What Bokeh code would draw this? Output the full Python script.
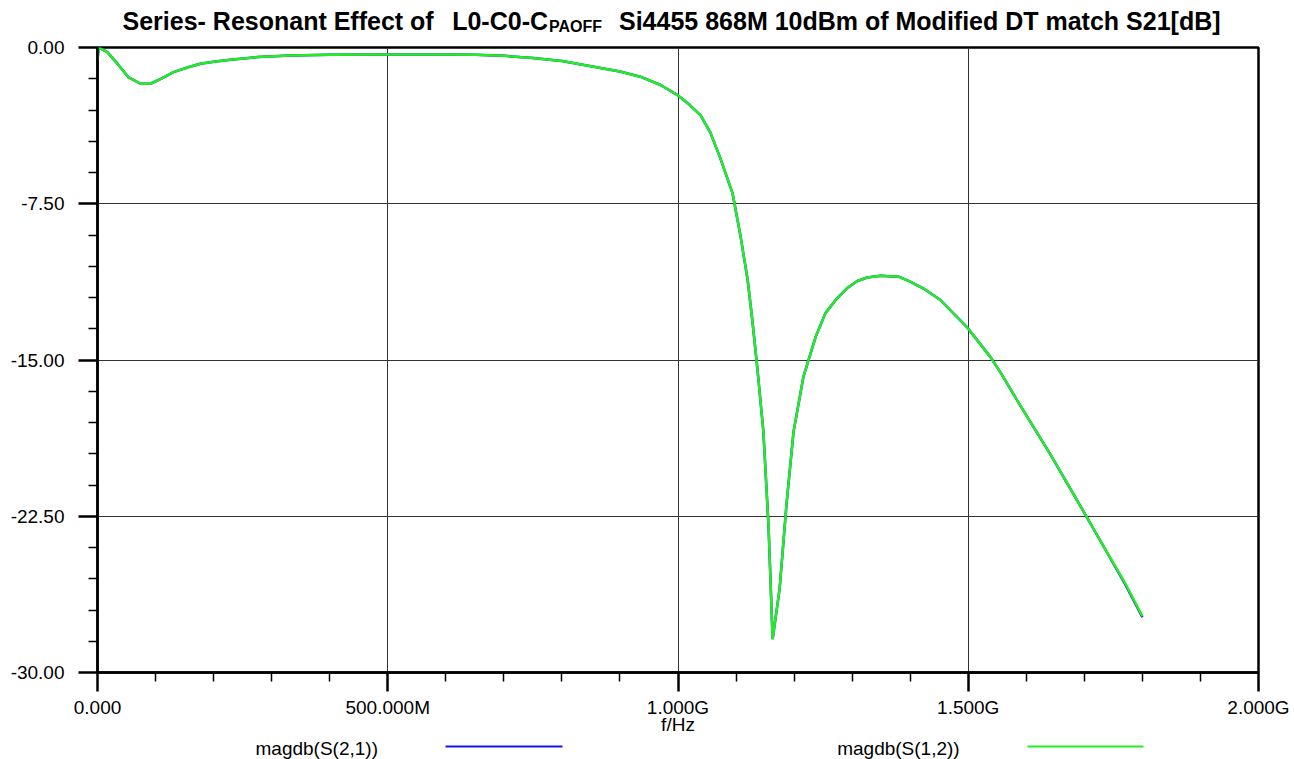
from bokeh.plotting import figure
from bokeh.layouts import column
from bokeh.models import Range1d, FixedTicker
from bokeh.core.properties import value
from bokeh.embed import file_html
from bokeh.resources import INLINE

# ---- data (frequency in GHz, magnitude in dB) ----
freq_ghz = [0.0, 0.002, 0.017, 0.035, 0.053, 0.074, 0.091, 0.110, 0.131, 0.155,
            0.177, 0.200, 0.229, 0.276, 0.332, 0.400, 0.500, 0.600, 0.650, 0.700,
            0.750, 0.800, 0.850, 0.900, 0.935, 0.970, 1.000, 1.020, 1.039, 1.056,
            1.073, 1.094, 1.108, 1.120, 1.128, 1.137, 1.147, 1.156, 1.163, 1.175,
            1.187, 1.199, 1.216, 1.237, 1.254, 1.274, 1.291, 1.309, 1.326, 1.349,
            1.380, 1.400, 1.423, 1.452, 1.499, 1.538, 1.556, 1.590, 1.642, 1.693,
            1.728, 1.771, 1.800]
s21_db = [-0.62, 0.0, -0.22, -0.80, -1.42, -1.74, -1.74, -1.49, -1.18, -0.96,
          -0.78, -0.68, -0.59, -0.46, -0.38, -0.35, -0.34, -0.34, -0.35, -0.40,
          -0.50, -0.65, -0.90, -1.15, -1.40, -1.80, -2.30, -2.75, -3.26, -4.10,
          -5.32, -7.00, -9.10, -11.16, -13.08, -15.48, -18.40, -23.00, -28.40, -26.00,
          -21.90, -18.45, -15.81, -13.90, -12.75, -12.04, -11.56, -11.21, -11.04, -10.96,
          -11.00, -11.24, -11.57, -12.12, -13.46, -14.85, -15.62, -17.20, -19.55, -22.00,
          -23.70, -25.80, -27.35]
s12_db = [-0.62, 0.0, -0.22, -0.80, -1.42, -1.74, -1.74, -1.49, -1.18, -0.96,
          -0.78, -0.68, -0.59, -0.46, -0.38, -0.35, -0.34, -0.34, -0.35, -0.40,
          -0.50, -0.65, -0.90, -1.15, -1.40, -1.80, -2.30, -2.75, -3.26, -4.10,
          -5.32, -7.00, -9.10, -11.16, -13.08, -15.48, -18.40, -23.00, -28.40, -26.00,
          -21.90, -18.45, -15.81, -13.90, -12.75, -12.04, -11.56, -11.21, -11.04, -10.96,
          -11.00, -11.24, -11.57, -12.12, -13.46, -14.85, -15.62, -17.20, -19.55, -22.00,
          -23.70, -25.75, -27.30]

x_ticks = [0.0, 0.5, 1.0, 1.5, 2.0]
x_tick_labels = ["0.000", "500.000M", "1.000G", "1.500G", "2.000G"]
x_minor_ticks = [0.1, 0.2, 0.3, 0.4, 0.6, 0.7, 0.8, 0.9, 1.1, 1.2, 1.3, 1.4,
                 1.6, 1.7, 1.8, 1.9]
y_ticks = [-30.0, -22.5, -15.0, -7.5, 0.0]
y_tick_labels = ["-30.00", "-22.50", "-15.00", "-7.50", "0.00"]
y_minor_ticks = [-28.5, -27.0, -25.5, -24.0, -21.0, -19.5, -18.0, -16.5,
                 -13.5, -12.0, -10.5, -9.0, -6.0, -4.5, -3.0, -1.5]

title_main = "Series- Resonant Effect of"
title_comp = "L0-C0-C"
title_sub = "PAOFF"
title_rest = "Si4455 868M 10dBm of Modified DT match S21[dB]"
x_axis_title = "f/Hz"
series_names = ["magdb(S(2,1))", "magdb(S(1,2))"]
series_colors = ["#1414f0", "#22ee22"]

FONT = "Liberation Sans"
W = 1294
LEFT, RIGHT = 97, 36          # frame borders shared by all stacked figures


def mid(baseline, size):
    # vertical centre of a text line from its baseline (Liberation Sans metrics)
    return baseline - 0.3465 * size


def blank_fig(height, y_top, y_bottom):
    f = figure(width=W, height=height, x_range=Range1d(LEFT, W - RIGHT),
               y_range=Range1d(y_bottom, y_top),
               x_axis_type=None, y_axis_type=None, output_backend="svg",
               toolbar_location=None, min_border_left=LEFT, min_border_right=RIGHT,
               min_border_top=0, min_border_bottom=0)
    f.outline_line_color = None
    f.background_fill_color = "white"
    f.border_fill_color = "white"
    f.title.visible = False
    f.grid.visible = False
    return f


# ---------- title strip (page rows 0..36) ----------
tf = blank_fig(36, 0, 36)
tf.text(x=[122, 451.7, 618.5], y=[mid(29.3, 25)] * 3, text=[title_main, title_comp, title_rest],
        text_font=value(FONT), text_font_size=value("25px"), text_font_style="bold",
        text_color="black", text_align="left", text_baseline="middle")
tf.text(x=[548.5], y=[mid(31.6, 16)], text=[title_sub],
        text_font=value(FONT), text_font_size=value("16px"), text_font_style="bold",
        text_color="black", text_align="left", text_baseline="middle")

# ---------- main plot (page rows 36..737) ----------
fig = figure(width=W, height=701, x_range=Range1d(0, 2), y_range=Range1d(-30, 0),
             output_backend="svg", toolbar_location=None,
             min_border_left=LEFT, min_border_right=RIGHT, min_border_top=11, min_border_bottom=64)
fig.title.visible = False
fig.background_fill_color = "white"
fig.border_fill_color = "white"
fig.outline_line_color = "black"
fig.outline_line_width = 2.5

for ax in (fig.xaxis[0], fig.yaxis[0]):
    ax.axis_line_width = 2.5
    ax.axis_line_color = "black"
    ax.major_tick_in = 0
    ax.major_tick_out = 19
    ax.major_tick_line_width = 2.5
    ax.major_tick_line_color = "black"
    ax.minor_tick_in = 0
    ax.minor_tick_out = 9
    ax.minor_tick_line_width = 1.5
    ax.minor_tick_line_color = "black"
    ax.major_label_text_font = FONT
    ax.major_label_text_font_size = "19px"
    ax.major_label_text_color = "black"

xa = fig.xaxis[0]
xa.ticker = FixedTicker(ticks=x_ticks, minor_ticks=x_minor_ticks)
xa.major_label_overrides = {t: l for t, l in zip(x_ticks, x_tick_labels)}
xa.major_label_standoff = 5
xa.axis_label = x_axis_title
xa.axis_label_text_font = FONT
xa.axis_label_text_font_size = "19px"
xa.axis_label_text_font_style = "normal"
xa.axis_label_text_color = "black"
xa.axis_label_standoff = -7

ya = fig.yaxis[0]
ya.ticker = FixedTicker(ticks=y_ticks, minor_ticks=y_minor_ticks)
ya.major_label_overrides = {t: l for t, l in zip(y_ticks, y_tick_labels)}
ya.major_label_standoff = 14

fig.xgrid.ticker = FixedTicker(ticks=x_ticks)
fig.ygrid.ticker = FixedTicker(ticks=y_ticks)
for g in (fig.xgrid[0], fig.ygrid[0]):
    g.grid_line_color = "#333333"
    g.grid_line_width = 1

fig.line(freq_ghz, s21_db, line_color=series_colors[0], line_width=2.5)
fig.line(freq_ghz, s12_db, line_color=series_colors[1], line_width=2.5)

# ---------- bottom strip: legend (page rows 737..759) ----------
lf = blank_fig(22, 737, 759)
lf.text(x=[255, 836.7], y=[mid(755, 19)] * 2, text=series_names, text_font=value(FONT),
        text_font_size=value("19px"), text_color="black", text_align="left",
        text_baseline="middle")
lf.line(x=[445, 562], y=[746, 746], line_color=series_colors[0], line_width=2)
lf.line(x=[1027, 1143], y=[746, 746], line_color=series_colors[1], line_width=2)

p = column(tf, fig, lf, spacing=0)

open("out.html", "w").write(file_html(p, INLINE))
